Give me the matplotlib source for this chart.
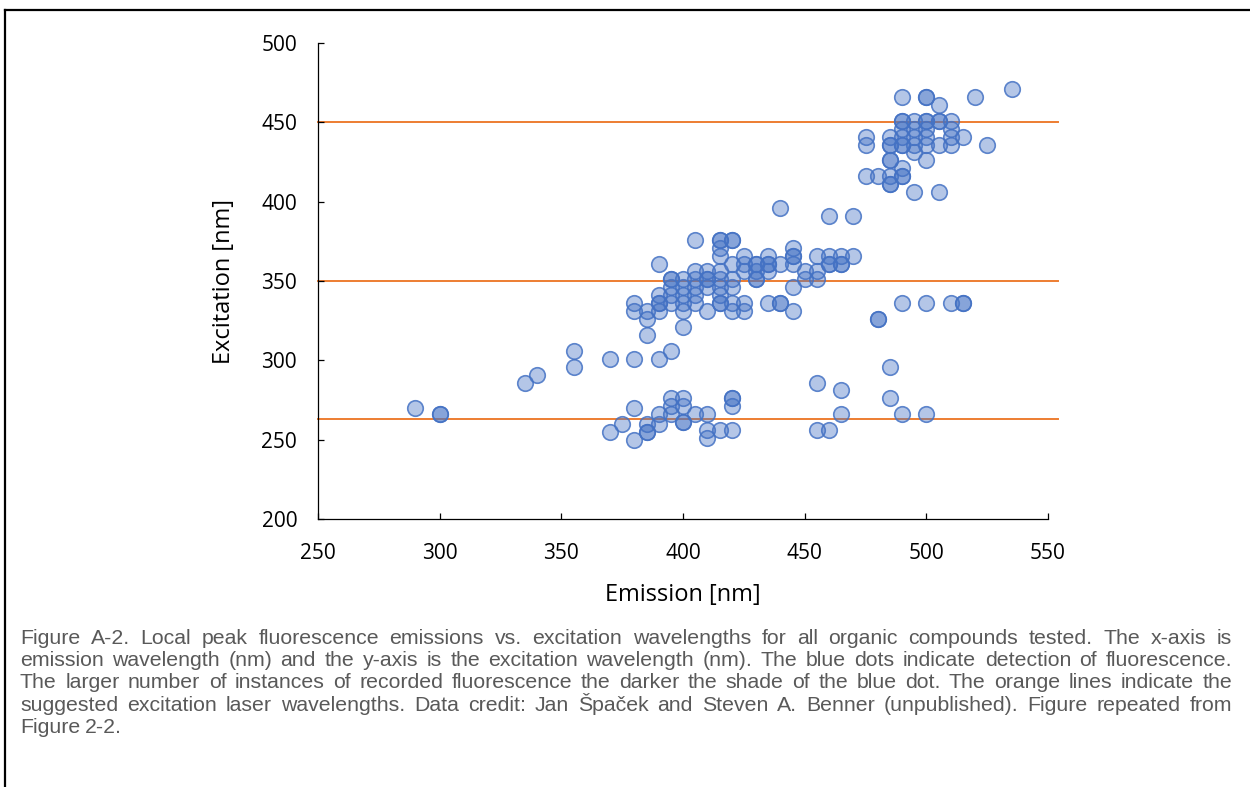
import matplotlib
matplotlib.use('Agg')
from matplotlib import pyplot as plt
from matplotlib.lines import Line2D

# Local peak emission / excitation pairs (nm)
emission = [290, 300, 300, 335, 340, 355, 355, 370, 370, 375,
            380, 380, 380, 380, 380,
            385, 385, 385, 385, 385, 385,
            390, 390, 390, 390, 390, 390, 390, 390,
            395, 395, 395, 395, 395, 395, 395, 395, 395,
            400, 400, 400, 400, 400, 400, 400, 400, 400, 400,
            405, 405, 405, 405, 405, 405, 405,
            410, 410, 410, 410, 410, 410, 410, 410,
            415, 415, 415, 415, 415, 415, 415, 415, 415, 415, 415,
            420, 420, 420, 420, 420, 420, 420, 420, 420, 420, 420,
            425, 425, 425, 425, 425,
            430, 430, 430, 430, 430,
            435, 435, 435, 435, 435,
            440, 440, 440, 440,
            445, 445, 445, 445, 445, 445,
            450, 450,
            455, 455, 455, 455, 455,
            460, 460, 460, 460, 460,
            465, 465, 465, 465, 465,
            470, 470,
            475, 475, 475,
            480, 480, 480,
            485, 485, 485, 485, 485, 485, 485, 485, 485, 485,
            490, 490, 490, 490, 490, 490, 490, 490, 490, 490, 490, 490,
            495, 495, 495, 495, 495, 495,
            500, 500, 500, 500, 500, 500, 500, 500, 500, 500,
            505, 505, 505, 505, 505,
            510, 510, 510, 510, 510,
            515, 515, 515,
            520, 525, 535]
excitation = [270, 266, 266, 286, 291, 306, 296, 301, 255, 260,
              336, 331, 301, 270, 250,
              331, 326, 316, 260, 255, 255,
              361, 341, 336, 336, 331, 301, 266, 260,
              351, 351, 346, 341, 336, 306, 276, 271, 266,
              351, 346, 341, 336, 331, 321, 276, 271, 261, 261,
              376, 356, 351, 346, 341, 336, 266,
              356, 351, 351, 346, 331, 266, 256, 251,
              376, 376, 371, 366, 356, 351, 346, 341, 336, 336, 256,
              376, 376, 361, 351, 346, 336, 331, 276, 276, 271, 256,
              366, 361, 356, 336, 331,
              361, 361, 356, 351, 351,
              366, 361, 361, 356, 336,
              396, 361, 336, 336,
              371, 366, 366, 361, 346, 331,
              356, 351,
              366, 356, 351, 286, 256,
              391, 366, 361, 361, 256,
              366, 361, 361, 281, 266,
              391, 366,
              441, 436, 416,
              416, 326, 326,
              441, 436, 436, 426, 426, 416, 411, 411, 296, 276,
              466, 451, 451, 446, 441, 436, 436, 421, 416, 416, 336, 266,
              451, 446, 441, 436, 431, 406,
              466, 466, 451, 451, 446, 441, 436, 426, 336, 266,
              461, 451, 451, 436, 406,
              451, 446, 441, 436, 336,
              441, 336, 336,
              466, 436, 471]

# suggested excitation laser wavelengths
laser_nm = [450, 350, 263]
laser_x = [250, 554]

x_ticks = [250, 300, 350, 400, 450, 500, 550]
y_ticks = [200, 250, 300, 350, 400, 450, 500]

caption = [
    "Figure A-2. Local peak fluorescence emissions vs. excitation wavelengths for all organic compounds tested. The x-axis is",
    "emission wavelength (nm) and the y-axis is the excitation wavelength (nm). The blue dots indicate detection of fluorescence.",
    "The larger number of instances of recorded fluorescence the darker the shade of the blue dot. The orange lines indicate the",
    "suggested excitation laser wavelengths. Data credit: Jan Špaček and Steven A. Benner (unpublished). Figure repeated from",
    "Figure 2-2.",
]

W, H = 1250, 787
fig = plt.figure(figsize=(W / 100, H / 100), dpi=100)
ax = fig.add_axes([318 / W, 1 - 519 / H, 730 / W, 476 / H])

for y in laser_nm:
    ax.plot(laser_x, [y, y], color='#ED7D31', lw=1.4, clip_on=False, zorder=1)

ax.scatter(emission, excitation, s=125, facecolor=(0.267, 0.447, 0.769, 0.4),
           edgecolor=(0.267, 0.447, 0.769, 0.85), linewidths=1.2, zorder=3)

ax.set_xlim(250, 550)
ax.set_ylim(200, 500)
ax.set_xticks(x_ticks)
ax.set_yticks(y_ticks)
for side in ['top', 'right']:
    ax.spines[side].set_visible(False)
for side in ['left', 'bottom']:
    ax.spines[side].set_linewidth(0.9)
    ax.spines[side].set_color('#000000')
ax.tick_params(axis='both', direction='in', length=4, width=0.9, labelsize=15)
ax.tick_params(axis='y', pad=15)
ax.tick_params(axis='x', pad=17)
for lab in ax.get_xticklabels() + ax.get_yticklabels():
    lab.set_fontfamily('Open Sans')
ax.set_xlabel('Emission [nm]', fontsize=17, fontfamily='Open Sans', labelpad=14)
ax.set_ylabel('Excitation [nm]', fontsize=17, fontfamily='Open Sans', labelpad=18)

# frame lines (top and left) round the figure box
fig.add_artist(Line2D([5 / W, 1], [1 - 10 / H, 1 - 10 / H], color='black', lw=1.6))
fig.add_artist(Line2D([5 / W, 5 / W], [1 - 10 / H, 0], color='black', lw=1.6))

# caption, fully justified like the document
rend = fig.canvas.get_renderer()
cap_font = dict(fontsize=15.3, color='#595959',
                family=['Liberation Sans Narrow', 'Liberation Sans', 'DejaVu Sans'],
                va='baseline', ha='left')
x0, x1 = 20, 1232
base = 644
for i, line in enumerate(caption):
    y = 1 - (base + i * 22.2) / H
    words = line.split(' ')
    objs = [fig.text(0, y, w, **cap_font) for w in words]
    widths = [o.get_window_extent(rend).width for o in objs]
    if i == len(caption) - 1:
        gap = 5.0
    else:
        gap = (x1 - x0 - sum(widths)) / (len(words) - 1)
    x = x0
    for o, w in zip(objs, widths):
        o.set_x(x / W)
        x += w + gap

fig.savefig('out.png', dpi=100)
